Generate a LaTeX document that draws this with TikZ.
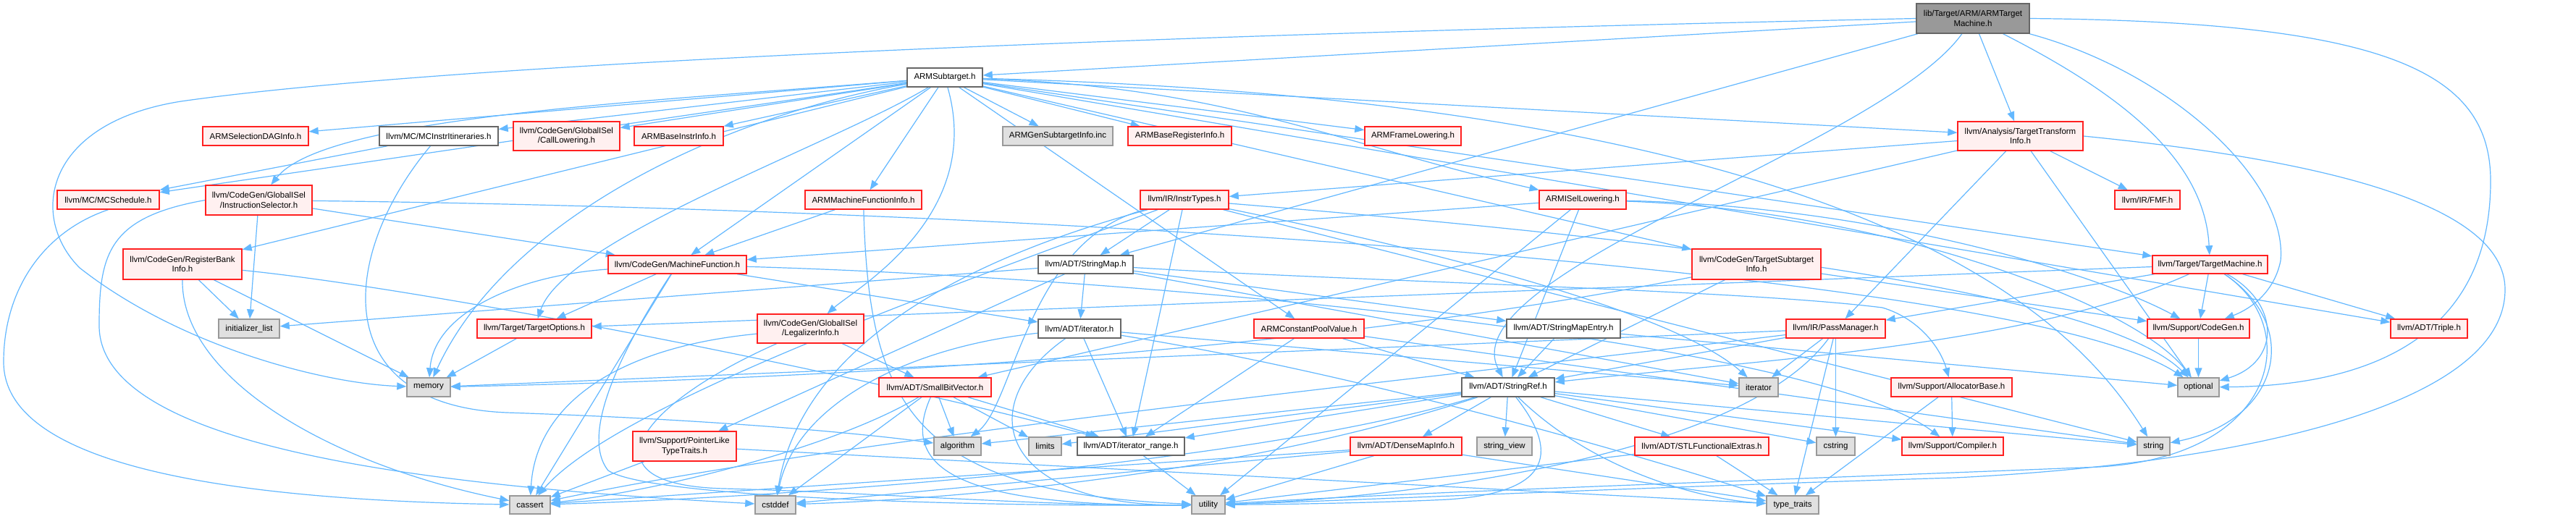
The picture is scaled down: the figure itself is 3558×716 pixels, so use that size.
\documentclass[tikz,border=0pt]{standalone}
\usepackage{fontspec}
\setmainfont{Liberation Sans}
\usetikzlibrary{arrows.meta}
\pgfdeclarelayer{bg}
\pgfsetlayers{bg,main}
\definecolor{edgeblue}{HTML}{63B8FF}
\definecolor{redfill}{HTML}{FFF0F0}
\definecolor{grayfill}{HTML}{E0E0E0}
\definecolor{greysixty}{HTML}{999999}
\definecolor{greyforty}{HTML}{666666}
\definecolor{redline}{HTML}{FF2020}
\tikzset{
  box/.style={draw, line width=1.4pt, inner sep=0pt, align=center, font=\fontsize{11.5}{13.5}\selectfont, text=black},
  rbox/.style={box, draw=redline, fill=redfill},
  gbox/.style={box, draw=greysixty, fill=grayfill},
  wbox/.style={box, draw=greyforty, fill=white},
  rootbox/.style={box, draw=greyforty, fill=greysixty},
  ed/.style={draw=edgeblue, line width=1.2pt, -{Triangle[length=13pt,width=10pt]}},
}
\begin{document}
\begin{tikzpicture}[x=1pt,y=-1pt]
\useasboundingbox (0,0) rectangle (3558,716);

% nodes
\node[rootbox, minimum width=156pt, minimum height=41pt] (root) at (2725,25.5) {lib/Target/ARM/ARMTarget\\Machine.h};
\node[wbox, minimum width=104pt, minimum height=26pt] (sub) at (1305,107) {ARMSubtarget.h};

\node[rbox, minimum width=146pt, minimum height=26pt] (seldag) at (353,188) {ARMSelectionDAGInfo.h};
\node[wbox, minimum width=164pt, minimum height=26pt] (mcitin) at (606,188) {llvm/MC/MCInstrItineraries.h};
\node[rbox, minimum width=147pt, minimum height=40pt] (calllow) at (782.5,188) {llvm/CodeGen/GlobalISel\\/CallLowering.h};
\node[rbox, minimum width=123pt, minimum height=26pt] (baseinstr) at (937.5,188) {ARMBaseInstrInfo.h};
\node[gbox, minimum width=152pt, minimum height=26pt] (gensub) at (1461,188) {ARMGenSubtargetInfo.inc};
\node[rbox, minimum width=143pt, minimum height=26pt] (basereg) at (1629.5,188) {ARMBaseRegisterInfo.h};
\node[rbox, minimum width=133pt, minimum height=26pt] (framelow) at (1951.5,188) {ARMFrameLowering.h};
\node[rbox, minimum width=173pt, minimum height=40pt] (tti) at (2790.5,188) {llvm/Analysis/TargetTransform\\Info.h};

\node[rbox, minimum width=141pt, minimum height=26pt] (mcsched) at (149.5,276) {llvm/MC/MCSchedule.h};
\node[rbox, minimum width=147pt, minimum height=41pt] (instsel) at (357.5,276.5) {llvm/CodeGen/GlobalISel\\/InstructionSelector.h};
\node[rbox, minimum width=161pt, minimum height=26pt] (mfi) at (1192.5,276) {ARMMachineFunctionInfo.h};
\node[rbox, minimum width=122pt, minimum height=26pt] (instr) at (1636,276) {llvm/IR/InstrTypes.h};
\node[rbox, minimum width=120pt, minimum height=26pt] (isel) at (2186,276) {ARMISelLowering.h};
\node[rbox, minimum width=90pt, minimum height=26pt] (fmf) at (2966,276) {llvm/IR/FMF.h};

\node[rbox, minimum width=164pt, minimum height=42pt] (regbank) at (252,365) {llvm/CodeGen/RegisterBank\\Info.h};
\node[rbox, minimum width=191pt, minimum height=25pt] (mf) at (935.5,365.5) {llvm/CodeGen/MachineFunction.h};
\node[wbox, minimum width=131pt, minimum height=25pt] (stringmap) at (1499.5,365.5) {llvm/ADT/StringMap.h};
\node[rbox, minimum width=178pt, minimum height=42pt] (tsi) at (2426,365) {llvm/CodeGen/TargetSubtarget\\Info.h};
\node[rbox, minimum width=159pt, minimum height=25pt] (tm) at (3052.5,365.5) {llvm/Target/TargetMachine.h};

\node[gbox, minimum width=84pt, minimum height=26pt] (initlist) at (344,454) {initializer\_list};
\node[rbox, minimum width=158pt, minimum height=26pt] (topts) at (738,454) {llvm/Target/TargetOptions.h};
\node[rbox, minimum width=147pt, minimum height=40pt] (legal) at (1119.5,454) {llvm/CodeGen/GlobalISel\\/LegalizerInfo.h};
\node[wbox, minimum width=114pt, minimum height=26pt] (iteratorh) at (1491,454) {llvm/ADT/iterator.h};
\node[rbox, minimum width=152pt, minimum height=26pt] (cpv) at (1808,454) {ARMConstantPoolValue.h};
\node[wbox, minimum width=157pt, minimum height=26pt] (smentry) at (2159.5,454) {llvm/ADT/StringMapEntry.h};
\node[rbox, minimum width=137pt, minimum height=26pt] (passmgr) at (2535.5,454) {llvm/IR/PassManager.h};
\node[rbox, minimum width=141pt, minimum height=26pt] (codegenh) at (3036.5,454) {llvm/Support/CodeGen.h};
\node[rbox, minimum width=106pt, minimum height=26pt] (triple) at (3355,454) {llvm/ADT/Triple.h};

\node[gbox, minimum width=60pt, minimum height=26pt] (memory) at (592,535) {memory};
\node[rbox, minimum width=155pt, minimum height=26pt] (sbv) at (1291.5,535) {llvm/ADT/SmallBitVector.h};
\node[wbox, minimum width=128pt, minimum height=26pt] (stringref) at (2083,535) {llvm/ADT/StringRef.h};
\node[gbox, minimum width=54pt, minimum height=26pt] (iterator) at (2429,535) {iterator};
\node[rbox, minimum width=167pt, minimum height=26pt] (allocbase) at (2695.5,535) {llvm/Support/AllocatorBase.h};
\node[gbox, minimum width=57pt, minimum height=26pt] (optional) at (3036.5,535) {optional};

\node[rbox, minimum width=143pt, minimum height=41pt] (pltt) at (945.5,616.5) {llvm/Support/PointerLike\\TypeTraits.h};
\node[gbox, minimum width=65pt, minimum height=25pt] (algorithm) at (1322.5,616.5) {algorithm};
\node[gbox, minimum width=45pt, minimum height=25pt] (limits) at (1443.5,616.5) {limits};
\node[wbox, minimum width=148pt, minimum height=25pt] (iterrange) at (1562,616.5) {llvm/ADT/iterator\_range.h};
\node[rbox, minimum width=154pt, minimum height=25pt] (densemap) at (1942,616.5) {llvm/ADT/DenseMapInfo.h};
\node[gbox, minimum width=76pt, minimum height=25pt] (stringview) at (2078,616.5) {string\_view};
\node[rbox, minimum width=185pt, minimum height=25pt] (stlfe) at (2350.5,616.5) {llvm/ADT/STLFunctionalExtras.h};
\node[gbox, minimum width=53pt, minimum height=25pt] (cstring) at (2535.5,616.5) {cstring};
\node[rbox, minimum width=140pt, minimum height=25pt] (compiler) at (2697,616.5) {llvm/Support/Compiler.h};
\node[gbox, minimum width=45pt, minimum height=25pt] (string) at (2974.5,616.5) {string};

\node[gbox, minimum width=56pt, minimum height=25pt] (cassert) at (732,697.5) {cassert};
\node[gbox, minimum width=56pt, minimum height=25pt] (cstddef) at (1071,697.5) {cstddef};
\node[gbox, minimum width=46pt, minimum height=25pt] (utility) at (1669,697.5) {utility};
\node[gbox, minimum width=72pt, minimum height=25pt] (typetraits) at (2476,697.5) {type\_traits};

% ---------- edges, under the nodes ----------
\begin{pgfonlayer}{bg}
\fill[white] (0,0) rectangle (3558,716);
% root
\foreach \t in {sub,stringmap,tti} \draw[ed] (root) -- (\t);
\draw[ed] (root) .. controls (2600,200) and (2000,380) .. (stringref);
\draw[ed] (root) .. controls (3000,100) and (3160,250) .. (3150,360) .. controls (3140,410) and (3100,430) .. (codegenh);
\draw[ed] (root) .. controls (2930,130) and (3045,220) .. (tm);
\draw[ed] (root.west) .. controls (1500,50) and (600,90) .. (250,140) .. controls (60,170) and (40,300) .. (110,370) .. controls (250,480) and (450,530) .. (memory);
\draw[ed] (root.east) .. controls (3300,30) and (3440,100) .. (3440,250) .. controls (3440,480) and (3250,533) .. (optional);
% ARMSubtarget
\foreach \t in {seldag,mcitin,calllow,baseinstr,gensub,basereg,framelow,tti,mcsched,regbank,mfi,mf,cpv,tsi,tm,triple} \draw[ed] (sub) -- (\t);
\draw[ed] (sub) .. controls (1700,120) and (1850,200) .. (isel);
\draw[ed] (sub) .. controls (900,140) and (450,160) .. (instsel);
\draw[ed] (sub) .. controls (1150,200) and (780,330) .. (topts);
\draw[ed] (sub) .. controls (1000,160) and (700,300) .. (memory);
\draw[ed] (sub) .. controls (1360,300) and (1180,400) .. (legal);
\draw[ed] (sub) .. controls (2600,140) and (2870,450) .. (string);
% MCInstrItineraries / MCSchedule
\draw[ed] (mcitin) -- (mcsched);
\draw[ed] (mcitin) .. controls (470,350) and (450,560) .. (700,570) .. controls (1000,580) and (1200,600) .. (algorithm);
\draw[ed] (mcsched.south) .. controls (60,320) and (5,400) .. (5,500) .. controls (5,640) and (300,690) .. (cassert);
% InstructionSelector
\foreach \t in {mf,initlist} \draw[ed] (instsel) -- (\t);
\draw[ed] (instsel) .. controls (1500,290) and (2800,380) .. (optional);
\draw[ed] (instsel.west) .. controls (150,300) and (137,350) .. (137,450) .. controls (137,620) and (600,672) .. (cstddef);
% RegisterBankInfo
\foreach \t in {initlist,memory} \draw[ed] (regbank) -- (\t);
\draw[ed] (regbank) .. controls (600,400) and (1200,520) .. (iterrange);
\draw[ed] (regbank.south) .. controls (250,520) and (450,640) .. (cassert);
% MFI
\draw[ed] (mfi) -- (mf);
\draw[ed] (mfi) .. controls (1200,560) and (1260,680) .. (utility);
% MachineFunction
\foreach \t in {topts,iteratorh,cassert} \draw[ed] (mf) -- (\t);
\draw[ed] (mf) .. controls (720,380) and (600,430) .. (memory);
\draw[ed] (mf) .. controls (860,480) and (800,600) .. (840,650) .. controls (900,690) and (1400,700) .. (utility);
\draw[ed] (mf) .. controls (1600,385) and (2500,470) .. (compiler);
\draw[ed] (topts) -- (memory);
% LegalizerInfo
\draw[ed] (legal) -- (sbv);
\draw[ed] (legal) .. controls (850,480) and (740,560) .. (cassert);
\draw[ed] (legal) .. controls (880,560) and (800,670) .. (1000,675) .. controls (1200,680) and (1450,700) .. (utility);
% TTI
\foreach \t in {fmf,instr,passmgr,sbv,optional} \draw[ed] (tti) -- (\t);
\draw[ed] (tti.east) .. controls (3200,220) and (3460,280) .. (3460,400) .. controls (3460,560) and (3100,640) .. (2700,660) .. controls (2300,672) and (1900,690) .. (utility);
% InstrTypes
\foreach \t in {stringmap,iterrange,string} \draw[ed] (instr) -- (\t);
\draw[ed] (instr) .. controls (1420,330) and (1400,560) .. (algorithm);
\draw[ed] (instr) .. controls (1300,400) and (850,560) .. (cassert);
\draw[ed] (instr) .. controls (1250,380) and (1100,520) .. (cstddef);
\draw[ed] (instr) .. controls (1900,330) and (2300,420) .. (iterator);
\draw[ed] (instr) .. controls (2300,330) and (2900,400) .. (optional);
% ISelLowering
\foreach \t in {mf,stringref,utility} \draw[ed] (isel) -- (\t);
\draw[ed] (isel) .. controls (2600,285) and (2900,380) .. (codegenh);
\draw[ed] (isel) .. controls (2600,290) and (2950,420) .. (optional);
% TargetSubtargetInfo
\foreach \t in {stringref,codegenh} \draw[ed] (tsi) -- (\t);
\draw[ed] (tsi) .. controls (1900,470) and (1300,520) .. (memory);
% TargetMachine
\foreach \t in {passmgr,codegenh,triple,topts} \draw[ed] (tm) -- (\t);
\draw[ed] (tm) .. controls (3150,420) and (3150,500) .. (optional);
\draw[ed] (tm) .. controls (3180,450) and (3150,580) .. (string);
\draw[ed] (tm) .. controls (2800,480) and (2400,500) .. (stringref);
\draw[ed] (tm) .. controls (3180,450) and (3150,630) .. (2900,645) .. controls (2400,665) and (1950,680) .. (utility);
% StringMap
\foreach \t in {iteratorh,smentry,pltt,initlist,iterator} \draw[ed] (stringmap) -- (\t);
\draw[ed] (stringmap) .. controls (1900,390) and (2400,400) .. (2600,425) .. controls (2650,440) and (2680,480) .. (allocbase);
% iterator.h
\foreach \t in {iterrange,iterator} \draw[ed] (iteratorh) -- (\t);
\draw[ed] (iteratorh) .. controls (1340,560) and (1380,700) .. (utility);
\draw[ed] (iteratorh) .. controls (1900,520) and (2300,640) .. (typetraits);
\draw[ed] (iteratorh) .. controls (1250,480) and (1100,560) .. (cstddef);
% ConstantPoolValue
\foreach \t in {stringref,iterrange,string} \draw[ed] (cpv) -- (\t);
% StringMapEntry
\foreach \t in {stringref,optional} \draw[ed] (smentry) -- (\t);
% PassManager
\foreach \t in {stringref,iterator,cstring,typetraits,memory} \draw[ed] (passmgr) -- (\t);
\draw[ed] (passmgr) .. controls (2000,520) and (1200,600) .. (cassert);
\draw[ed] (passmgr) .. controls (2400,640) and (1900,690) .. (utility);
\draw[ed] (codegenh) -- (optional);
% SmallBitVector
\foreach \t in {algorithm,limits,iterrange,cstddef} \draw[ed] (sbv) -- (\t);
\draw[ed] (sbv) .. controls (1150,620) and (900,680) .. (cassert);
\draw[ed] (sbv) .. controls (1240,650) and (1330,700) .. (utility);
% StringRef
\foreach \t in {densemap,stlfe,iterrange,compiler,algorithm,cstring,limits,string,stringview} \draw[ed] (stringref) -- (\t);
\draw[ed] (stringref) .. controls (1700,650) and (1000,690) .. (cassert);
\draw[ed] (stringref) .. controls (1700,660) and (1300,690) .. (cstddef);
\draw[ed] (stringref) .. controls (2150,620) and (2150,680) .. (2000,690) .. controls (1900,695) and (1750,697) .. (utility);
\draw[ed] (stringref) .. controls (2200,650) and (2350,690) .. (typetraits);
% leaves
\foreach \t in {compiler,typetraits} \draw[ed] (allocbase) -- (\t);
\foreach \t in {cassert,typetraits} \draw[ed] (pltt) -- (\t);
\foreach \t in {cassert,cstddef,utility,typetraits} \draw[ed] (densemap) -- (\t);
\foreach \t in {typetraits,utility} \draw[ed] (stlfe) -- (\t);
\draw[ed] (iterrange) -- (utility);
\end{pgfonlayer}
\end{tikzpicture}
\end{document}
